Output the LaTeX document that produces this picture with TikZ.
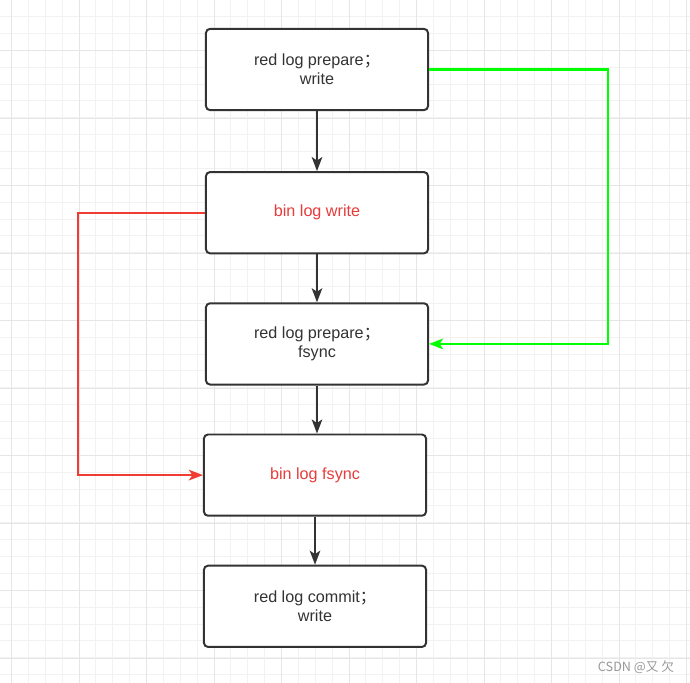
\documentclass[tikz,border=0pt]{standalone}
\usepackage{fontspec}
\setmainfont{Liberation Sans}
\newfontfamily\cjk{Noto Sans CJK SC}
\usetikzlibrary{arrows.meta, positioning}

\definecolor{boxline}{RGB}{51,51,51}
\definecolor{redline}{RGB}{240,60,50}
\definecolor{redtext}{RGB}{230,60,60}
\definecolor{greenline}{RGB}{0,255,0}
\definecolor{gridminor}{RGB}{242,242,242}
\definecolor{gridmajor}{RGB}{230,230,230}

\begin{document}
\begin{tikzpicture}[x=0.025cm, y=-0.025cm,
    >={Stealth[length=10pt, width=7.5pt, inset=2.5pt]},
    node distance=1.2cm,
    logbox/.style={draw=boxline, line width=1.4pt, rounded corners=0.1cm,
                   fill=white, minimum width=5.55cm, minimum height=2.03cm,
                   align=center, text=boxline,
                   font=\fontsize{11.5}{13.5}\selectfont},
    flow/.style={->, line width=1.4pt, boxline},
    route/.style={->, line width=1.6pt},
    gridline/.style={line width=0.025cm}]
  \useasboundingbox (0,0) rectangle (690,683);
  \fill[white] (0,0) rectangle (690,683);

  % Background grid
  \foreach \i in {0,...,40}
    \draw[gridline, gridminor] ({round(11+16.875*\i)+0.5},0) -- ++(0,683);
  \foreach \i in {0,...,40}
    \draw[gridline, gridminor] (0,{round(16+16.875*\i)+0.5}) -- ++(690,0);
  \foreach \i in {0,...,10}
    \draw[gridline, gridmajor] ({round(11+67.5*\i)+0.5},0) -- ++(0,683);
  \foreach \i in {0,...,9}
    \draw[gridline, gridmajor] (0,{round(50+67.5*\i)+0.5}) -- ++(690,0);

  % Commit steps (top to bottom)
  \node[logbox] (prepW) at (317,69.5) {red log prepare{\cjk ；}\\write};
  \node[logbox, text=redtext, below=1.5cm of prepW] (binW) {bin log write};
  \node[logbox, below=of binW] (prepF) {red log prepare{\cjk ；}\\fsync};
  \node[logbox, text=redtext, below=of prepF, xshift=-0.05cm] (binF) {bin log fsync};
  \node[logbox, below=of binF] (commitW) {red log commit{\cjk ；}\\write};

  \draw[flow] (prepW) -- (binW);
  \draw[flow] (binW) -- (prepF);
  \draw[flow] (prepF.south) -- (prepF.south |- binF.north);
  \draw[flow] (binF) -- (commitW);

  % Side routes
  \coordinate (gx) at (608,0);
  \coordinate (rx) at (78,0);
  \draw[route, greenline] (prepW.east) -- (prepW.east -| gx)
    -- (prepF.east -| gx) -- (prepF.east);
  \draw[route, redline] (binW.west) -- (binW.west -| rx)
    -- (binF.west -| rx) -- (binF.west);

  % Watermark
  \node[font=\cjk\fontsize{9}{10}\selectfont, text=black!40] (mark) at (636,667)
    {CSDN @又 欠};
\end{tikzpicture}
\end{document}
